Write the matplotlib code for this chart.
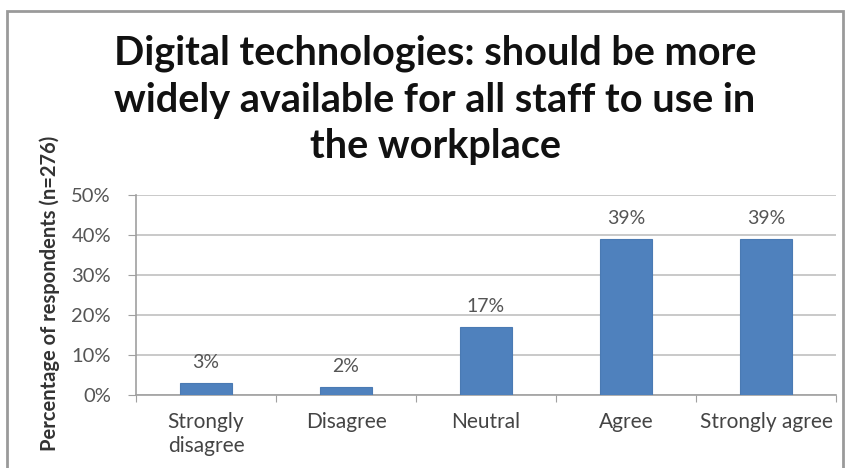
import matplotlib
matplotlib.use('Agg')
import matplotlib.pyplot as plt
from matplotlib.patches import Rectangle

plt.rcParams['font.family'] = ['Lato', 'DejaVu Sans']

categories = ['Strongly\ndisagree', 'Disagree', 'Neutral', 'Agree', 'Strongly agree']
values = [3, 2, 17, 39, 39]
yticks = [0, 10, 20, 30, 40, 50]
title = 'Digital technologies: should be more\nwidely available for all staff to use in\nthe workplace'
ylabel = 'Percentage of respondents (n=276)'

W, H = 848, 468
fig = plt.figure(figsize=(W / 100, H / 100), dpi=100)
fig.patch.set_facecolor('white')

# chart frame
fig.patches.append(Rectangle((7 / W, -0.05), 836 / W, 1.05 - 11 / H,
                             transform=fig.transFigure, fill=False,
                             edgecolor='#9a9a9a', linewidth=2))

ax = fig.add_axes([136 / W, 1 - 395 / H, 700 / W, 200 / H])
x = list(range(len(values)))
ax.bar(x, values, width=0.37, color='#4f81bd', edgecolor='#4a7ab3', linewidth=0.8, zorder=3)
for xi, v in zip(x, values):
    ax.annotate(f'{v}%', (xi, v), xytext=(0, 9), textcoords='offset points',
                ha='center', va='bottom', fontsize=14, color='#555555')

ax.set_xlim(-0.5, len(values) - 0.5)
ax.set_ylim(0, 50)
ax.set_yticks(yticks)
ax.set_yticklabels([f'{t}%' for t in yticks], fontsize=14.5, color='#555555')
ax.yaxis.grid(True, color='#c0c0c0', linewidth=1.2, zorder=0)
ax.set_axisbelow(True)

ax.set_xticks([i - 0.5 for i in range(len(values) + 1)], minor=False)
ax.set_xticklabels([])
ax.set_xticks(x, minor=True)
ax.set_xticklabels(categories, minor=True, fontsize=15, color='#444444', linespacing=1.3)
ax.tick_params(axis='x', which='major', length=5, color='#a0a0a0', direction='out')
ax.tick_params(axis='x', which='minor', length=0, pad=12)
ax.tick_params(axis='y', length=6, color='#a0a0a0', pad=12)

for s in ['top', 'right']:
    ax.spines[s].set_visible(False)
for s in ['left', 'bottom']:
    ax.spines[s].set_color('#a0a0a0')
    ax.spines[s].set_linewidth(1.2)

fig.text(435 / W, 1 - 100 / H, title, ha='center', va='center', fontsize=28.5,
         fontweight='bold', color='#111111', linespacing=1.32)
fig.text(50 / W, 1 - 293 / H, ylabel, ha='center', va='center', rotation=90,
         fontsize=14.5, fontweight='bold', color='#333333')

fig.savefig('out.png', dpi=100)
